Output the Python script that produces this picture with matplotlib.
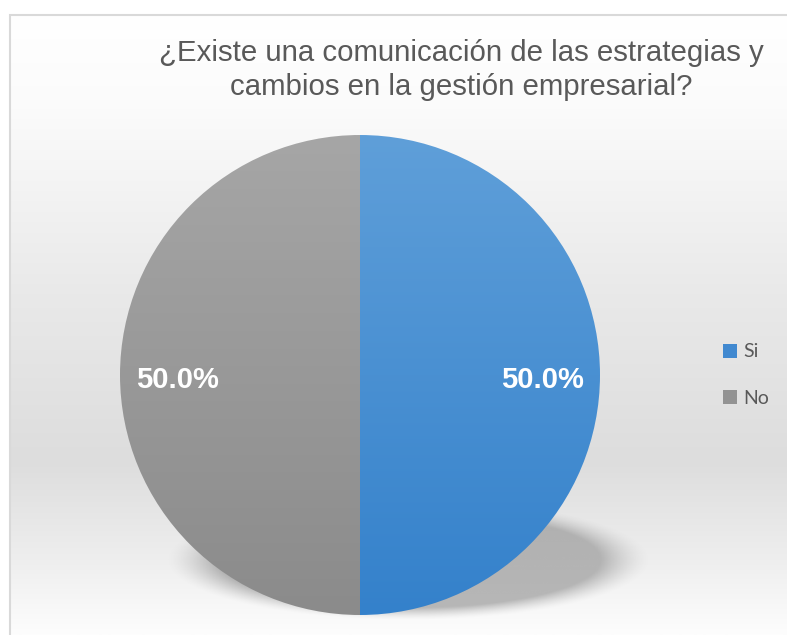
import numpy as np
import matplotlib.pyplot as plt
from matplotlib.colors import to_rgb
from matplotlib.patches import Patch, Rectangle

labels = ['Si', 'No']
values = [50, 50]
top_colors = ['#5f9fd9', '#a6a6a6']
bottom_colors = ['#3481cb', '#8b8b8b']
legend_colors = ['#4189d0', '#939393']
title = '¿Existe una comunicación de las estrategias y\ncambios en la gestión empresarial?'

W, H = 787, 635
fig = plt.figure(figsize=(W / 100, H / 100), dpi=100)
ax = fig.add_axes([0, 0, 1, 1])


def vgrad(stops, n=256):
    # vertical gradient, row 0 = top
    pos = [s[0] for s in stops]
    cols = np.array([to_rgb(s[1]) for s in stops])
    t = np.linspace(0, 1, n)
    img = np.stack([np.interp(t, pos, cols[:, k]) for k in range(3)], axis=1)
    return img[:, None, :]


# chart area background + border
bg = vgrad([(0.0, '#ffffff'), (0.15, '#fbfbfb'), (0.45, '#e9e9e9'),
            (0.72, '#dddddd'), (0.88, '#eeeeee'), (1.0, '#fdfdfd')])
ax.imshow(bg, extent=(10, 800, 0, 620), aspect='auto', zorder=0)
ax.add_patch(Rectangle((10, -10), 800, 630, fill=False, edgecolor='#d9d9d9',
                       linewidth=1.5, zorder=1))

# soft shadow under the pie
cx, cy, rx, ry = 408, 75, 224, 56
xs = np.linspace(cx - rx * 1.3, cx + rx * 1.3, 400)
ys = np.linspace(cy - ry * 1.6, cy + ry * 1.6, 200)
X, Y = np.meshgrid(xs, ys)
r = np.sqrt(((X - cx) / rx) ** 2 + ((Y - cy) / ry) ** 2)
alpha = 0.6 * np.clip((1.08 - r) / 0.22, 0, 1) ** 1.5
shadow = np.zeros(X.shape + (4,))
shadow[..., :3] = 0.55
shadow[..., 3] = alpha
ax.imshow(shadow, extent=(xs[0], xs[-1], ys[0], ys[-1]), origin='lower',
          aspect='auto', zorder=2)

# pie
wedges, texts, autotexts = ax.pie(
    values, radius=240, center=(360, 260), startangle=90, counterclock=False,
    autopct='%1.1f%%', pctdistance=0.76,
    wedgeprops=dict(facecolor='none', edgecolor='none'),
    textprops=dict(color='white', fontsize=21, fontweight='bold',
                   family='Liberation Sans'))

for w, c0, c1 in zip(wedges, top_colors, bottom_colors):
    w.set_zorder(3)
    im = ax.imshow(vgrad([(0, c0), (1, c1)]), extent=(120, 600, 20, 500),
                   aspect='auto', zorder=3)
    im.set_clip_path(w)

for t in autotexts:
    x, y = t.get_position()
    t.set_position((x, y - 5))
    t.set_zorder(5)

ax.set_xlim(0, W)
ax.set_ylim(0, H)
ax.axis('off')

ax.text(461, 635 - 70, title, ha='center', va='center', fontsize=21.2,
        color='#595959', family='Liberation Sans', linespacing=1.24)

handles = [Patch(facecolor=c, edgecolor='none') for c in legend_colors]
ax.legend(handles, labels, loc='center left',
          bbox_to_anchor=(705 / W, 1 - 375 / H), frameon=False,
          handlelength=0.75, handleheight=0.75, handletextpad=0.3,
          labelspacing=1.5,
          prop=dict(family='Lato', size=14), labelcolor='#595959')

fig.savefig('out.png', dpi=100)
